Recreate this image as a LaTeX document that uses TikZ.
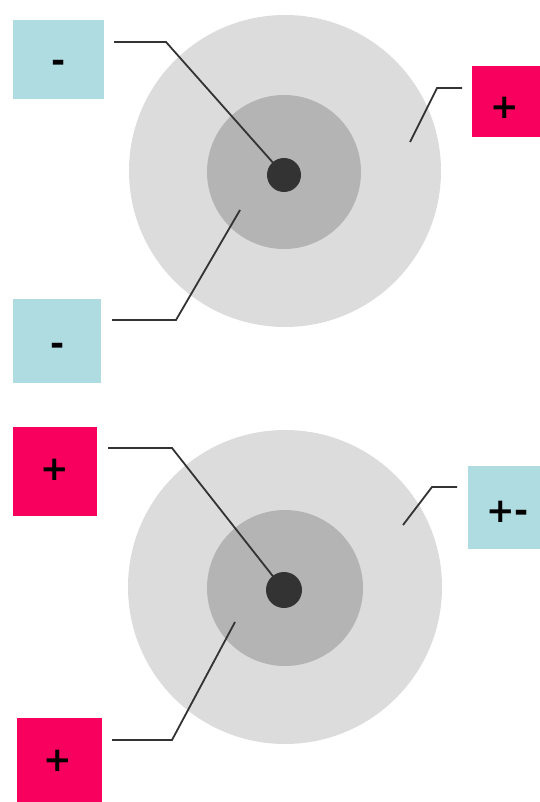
\documentclass[tikz,border=0pt]{standalone}
\usepackage{fontspec}
\setmainfont{DejaVu Sans}
\definecolor{outerg}{HTML}{DCDCDC}
\definecolor{midg}{HTML}{B4B4B4}
\definecolor{coreg}{HTML}{333333}
\definecolor{lblue}{HTML}{AEDCE0}
\definecolor{hpink}{HTML}{F8005E}
\begin{document}
\begin{tikzpicture}[x=1pt,y=-1pt,
  signtxt/.style={inner sep=0pt,outer sep=0pt,font=\bfseries\fontsize{34}{34}\selectfont,text=black},
  box/.style={inner sep=0pt,outer sep=0pt},
  bluebox/.style={box,fill=lblue},
  pinkbox/.style={box,fill=hpink},
  lead/.style={draw=coreg,line width=1.8pt}]
\useasboundingbox (0,0) rectangle (539,802);
% top atom
\fill[outerg] (285,171) circle (156);
\fill[midg] (284,172) circle (77);
\fill[coreg] (284,175) circle (17);
% bottom atom
\fill[outerg] (285,587) circle (157);
\fill[midg] (285,588) circle (78);
\fill[coreg] (284,590) circle (18);
% boxes
\node[bluebox,minimum width=91,minimum height=79,
  label={[signtxt,yshift=-7pt]center:-}] (b1) at (58.5,59.5) {};
\node[pinkbox,minimum width=80,minimum height=71,
  label={[signtxt,xshift=-7pt,yshift=-6pt]center:+}] (b2) at (512,101.5) {};
\node[bluebox,minimum width=88,minimum height=84,
  label={[signtxt,xshift=1pt,yshift=-8pt]center:-}] (b3) at (57,341) {};
\node[pinkbox,minimum width=84,minimum height=89,
  label={[signtxt,yshift=2pt]center:+}] (b4) at (55,471.5) {};
\node[bluebox,minimum width=80,minimum height=83,
  label={[signtxt,anchor=west,xshift=18pt,yshift=-4pt]west:+-}] (b5) at (508,507.5) {};
\node[pinkbox,minimum width=85,minimum height=86,
  label={[signtxt,xshift=-1.5pt]center:+}] (b6) at (59.5,761) {};
% connector points
\coordinate (s1) at (114,42); \coordinate (k1) at (166,42); \coordinate (e1) at (283,174);
\coordinate (s2) at (462,88); \coordinate (k2) at (437,88); \coordinate (e2) at (410,142);
\coordinate (s3) at (112,320); \coordinate (k3) at (176,320); \coordinate (e3) at (240,210);
\coordinate (s4) at (108,448); \coordinate (k4) at (172,448); \coordinate (e4) at (283,589);
\coordinate (s5) at (457,487); \coordinate (k5) at (432,487); \coordinate (e5) at (403,525);
\coordinate (s6) at (112,740); \coordinate (k6) at (172,740); \coordinate (e6) at (235,622);
\draw[lead] (s1) -- (k1) -- (e1);
\draw[lead] (s2) -- (k2) -- (e2);
\draw[lead] (s3) -- (k3) -- (e3);
\draw[lead] (s4) -- (k4) -- (e4);
\draw[lead] (s5) -- (k5) -- (e5);
\draw[lead] (s6) -- (k6) -- (e6);
\end{tikzpicture}
\end{document}
